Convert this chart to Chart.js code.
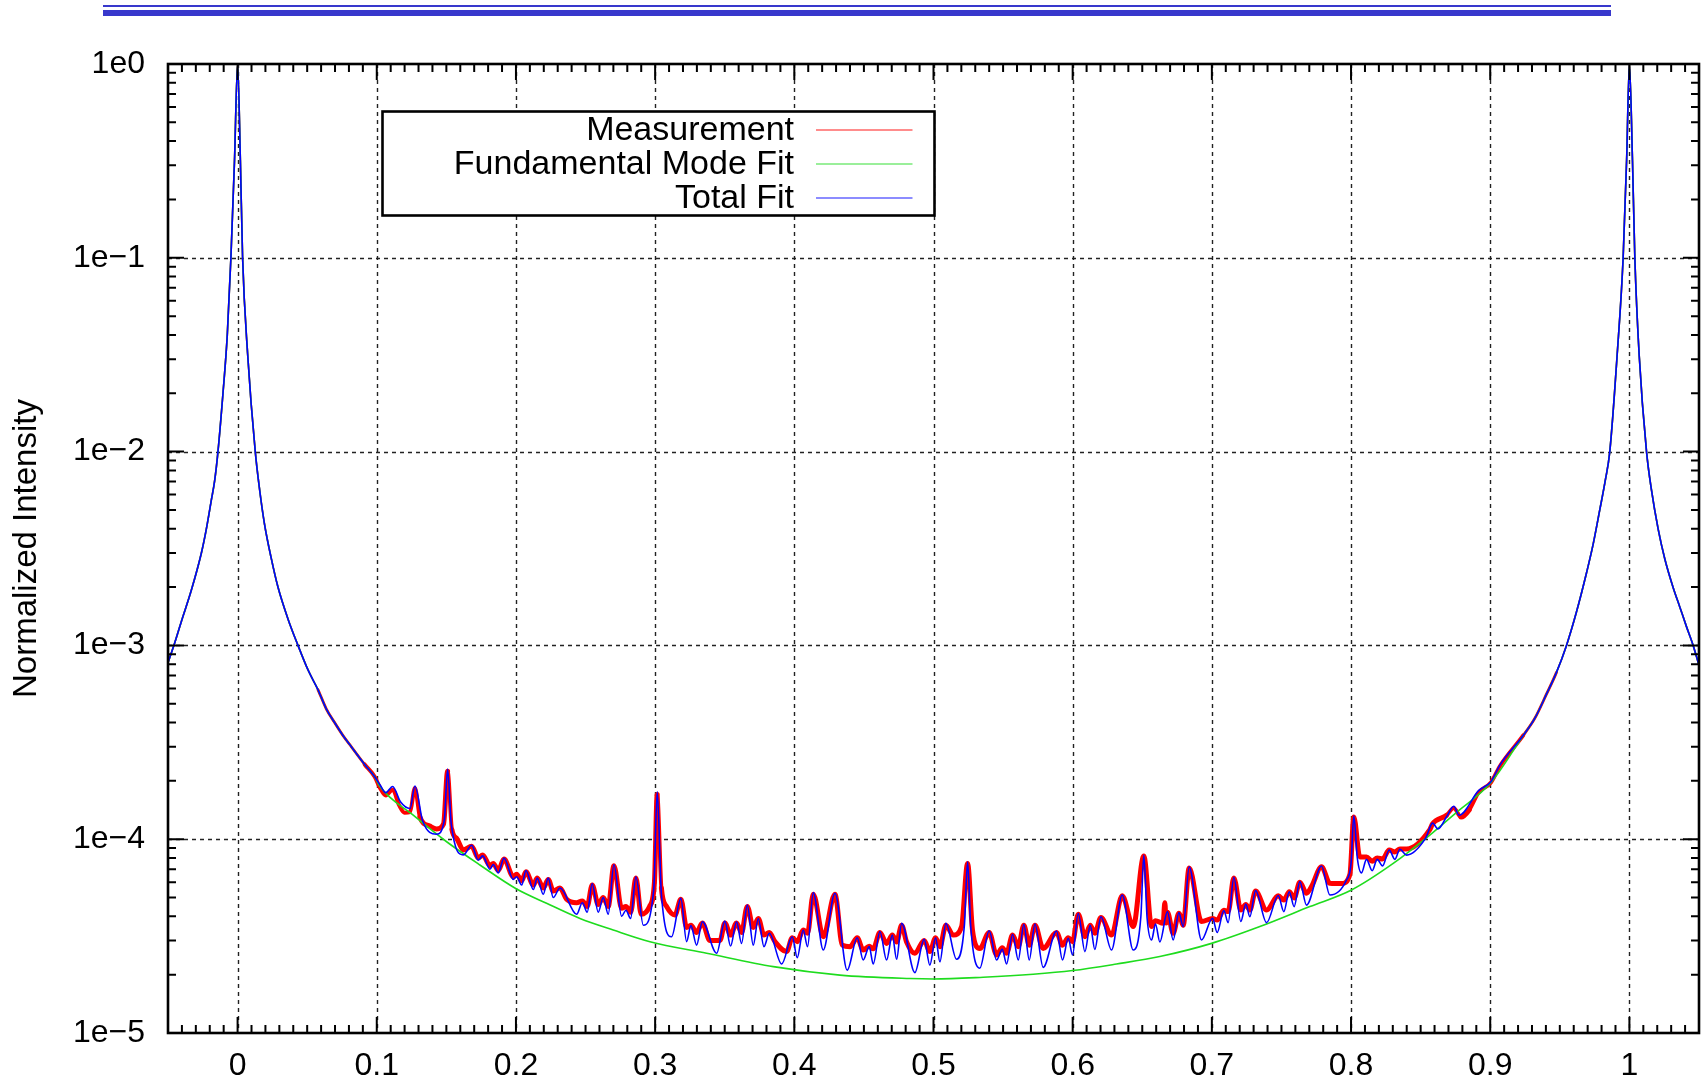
<!DOCTYPE html>
<html>
<head>
<meta charset="utf-8">
<script src="https://cdn.jsdelivr.net/npm/chart.js"></script>
<style>
  html, body { margin: 0; padding: 0; background: #fff; }
  #wrap { position: relative; width: 1704px; height: 1091px; }
  #myChart { position: absolute; left: 0; top: 0; }
  .rule { position: absolute; left: 103px; width: 1508px; background: #3838cc; z-index: 2; }
</style>
</head>
<body>
<div id="wrap">
  <div class="rule" style="top:5px;height:2px"></div>
  <div class="rule" style="top:10px;height:6px"></div>
  <canvas id="myChart" width="1704" height="1091"></canvas>
</div>

<script>
// wings of the two main resonances (all three curves sit on top of each other here)
const wingLeftX = [-0.05, -0.0452, -0.0404, -0.0332, -0.0261, -0.0225, -0.0189, -0.0165, -0.0141, -0.0105,
  -0.0074, -0.0048, -0.0022, 0, 0.0020, 0.0036, 0.0072, 0.0127, 0.0159, 0.0194,
  0.0242, 0.0290, 0.0362, 0.0434, 0.0506, 0.0578, 0.0637, 0.0697, 0.0757, 0.0817,
  0.0913, 0.0985];
const wingLeftY = [8.15e-4, 1.03e-3, 1.33e-3, 1.93e-3, 2.98e-3, 3.97e-3, 5.6e-3, 7.06e-3, 1.0e-2, 2.0e-2,
  4.0e-2, 1.0e-1, 3.2e-1, 1.0, 3.2e-1, 1.0e-1, 3.2e-2, 1.0e-2, 6.3e-3, 4.2e-3,
  2.81e-3, 2.0e-3, 1.37e-3, 1.0e-3, 7.47e-4, 5.9e-4, 4.71e-4, 4.0e-4, 3.43e-4, 3.0e-4,
  2.43e-4, 2.1e-4];

const wingRightX = [0.9237, 0.9320, 0.9404, 0.9476, 0.9548, 0.9620, 0.9692, 0.9740, 0.9787, 0.9826,
  0.9859, 0.9912, 0.9955, 0.9980, 1.0, 1.0022, 1.0039, 1.0070, 1.0123, 1.0159,
  1.0207, 1.0254, 1.0314, 1.0362, 1.0410, 1.0458, 1.05];
const wingRightY = [3.43e-4, 4.2e-4, 5.6e-4, 7.26e-4, 1.0e-3, 1.49e-3, 2.37e-3, 3.34e-3, 5.0e-3, 7.06e-3,
  1.0e-2, 3.16e-2, 1.0e-1, 3.2e-1, 1.0, 3.2e-1, 1.0e-1, 3.16e-2, 1.0e-2, 6.3e-3,
  3.97e-3, 2.8e-3, 1.99e-3, 1.58e-3, 1.25e-3, 1.0e-3, 7.9e-4];

// total fit between the main peaks
const fitX = [0.1023, 0.1065, 0.1114, 0.1170, 0.1239, 0.1274, 0.1330, 0.1430, 0.1485, 0.1509,
  0.1535, 0.1622, 0.1682, 0.1729, 0.1761, 0.1813, 0.1837, 0.1873, 0.1914, 0.1981,
  0.2005, 0.2041, 0.2072, 0.2125, 0.2153, 0.2196, 0.2232, 0.2268, 0.2316, 0.2436,
  0.2477, 0.2512, 0.2548, 0.2591, 0.2627, 0.2663, 0.2704, 0.2759, 0.2790, 0.2824,
  0.2862, 0.2915, 0.2990, 0.3015, 0.3045, 0.3118, 0.3185, 0.3226, 0.3257, 0.3298,
  0.3339, 0.3442, 0.3501, 0.3542, 0.3585, 0.3621, 0.3662, 0.3705, 0.3741, 0.3782,
  0.3820, 0.3909, 0.3985, 0.4021, 0.4064, 0.4095, 0.4136, 0.4208, 0.4292, 0.4380,
  0.4452, 0.4495, 0.4538, 0.4567, 0.4615, 0.4663, 0.4704, 0.4735, 0.4771, 0.4866,
  0.4933, 0.4974, 0.5015, 0.5046, 0.5089, 0.5166, 0.5222, 0.5245, 0.5268, 0.5333,
  0.5400, 0.5453, 0.5494, 0.5525, 0.5568, 0.5609, 0.5649, 0.5688, 0.5729, 0.5788,
  0.5884, 0.5927, 0.5968, 0.5999, 0.6040, 0.6088, 0.6126, 0.6159, 0.6203, 0.6279,
  0.6356, 0.6435, 0.6490, 0.6511, 0.6535, 0.6567, 0.6595, 0.6626, 0.6681, 0.6722,
  0.6763, 0.6794, 0.6837, 0.6926, 0.7005, 0.7038, 0.7086, 0.7117, 0.7158, 0.7208,
  0.7244, 0.7273, 0.7314, 0.7393, 0.7477, 0.7517, 0.7556, 0.7591, 0.7632, 0.7680,
  0.7788, 0.7848, 0.7967, 0.8000, 0.8020, 0.8045, 0.8075, 0.8111, 0.8152, 0.8188,
  0.8226, 0.8274, 0.8315, 0.8351, 0.8399, 0.8535, 0.8586, 0.8624, 0.8687, 0.8738,
  0.8776, 0.8916, 0.9005, 0.9069];
const fitY = [1.91e-4, 1.74e-4, 1.87e-4, 1.56e-4, 1.44e-4, 1.88e-4, 1.24e-4, 1.06e-4, 1.25e-4, 2.30e-4,
  1.20e-4, 8.3e-5, 9.3e-5, 7.8e-5, 8.2e-5, 7.0e-5, 7.4e-5, 6.7e-5, 8.0e-5, 6.2e-5,
  6.4e-5, 5.8e-5, 6.9e-5, 5.5e-5, 6.3e-5, 5.2e-5, 6.3e-5, 5.0e-5, 5.6e-5, 4.1e-5,
  4.7e-5, 4.2e-5, 5.9e-5, 4.2e-5, 5.0e-5, 4.1e-5, 7.4e-5, 4.0e-5, 4.3e-5, 3.9e-5,
  6.4e-5, 3.6e-5, 5.5e-5, 1.76e-4, 5.2e-5, 3.14e-5, 4.95e-5, 2.96e-5, 3.58e-5, 2.84e-5,
  3.75e-5, 2.58e-5, 3.78e-5, 2.81e-5, 3.75e-5, 2.90e-5, 4.57e-5, 2.84e-5, 3.90e-5, 2.79e-5,
  3.27e-5, 2.27e-5, 3.14e-5, 2.45e-5, 3.40e-5, 2.79e-5, 5.30e-5, 2.68e-5, 5.26e-5, 2.11e-5,
  3.10e-5, 2.38e-5, 2.79e-5, 2.27e-5, 3.34e-5, 2.38e-5, 3.20e-5, 2.40e-5, 3.68e-5, 2.05e-5,
  3.04e-5, 2.24e-5, 3.10e-5, 2.33e-5, 3.68e-5, 2.40e-5, 3.6e-5, 7.65e-5, 3.5e-5, 2.16e-5,
  3.37e-5, 2.38e-5, 2.70e-5, 2.27e-5, 3.23e-5, 2.38e-5, 3.64e-5, 2.38e-5, 3.65e-5, 2.18e-5,
  3.36e-5, 2.38e-5, 3.08e-5, 2.53e-5, 4.14e-5, 2.63e-5, 3.59e-5, 2.70e-5, 3.98e-5, 2.68e-5,
  5.15e-5, 2.68e-5, 4.0e-5, 8.28e-5, 3.9e-5, 3.02e-5, 3.65e-5, 2.95e-5, 4.23e-5, 3.02e-5,
  4.18e-5, 3.54e-5, 7.20e-5, 3.02e-5, 3.91e-5, 3.30e-5, 4.28e-5, 3.71e-5, 6.35e-5, 3.76e-5,
  4.63e-5, 3.98e-5, 5.43e-5, 3.71e-5, 5.12e-5, 4.23e-5, 5.36e-5, 4.49e-5, 6.04e-5, 4.57e-5,
  7.27e-5, 5.15e-5, 6.16e-5, 7.5e-5, 1.32e-4, 8.0e-5, 6.70e-5, 7.87e-5, 6.88e-5, 7.87e-5,
  7.28e-5, 8.80e-5, 7.87e-5, 8.87e-5, 8.28e-5, 1.01e-4, 1.21e-4, 1.13e-4, 1.31e-4, 1.48e-4,
  1.33e-4, 1.78e-4, 1.98e-4, 2.41e-4];

// measured spectrum between the main peaks
const measX = [0.1023, 0.1065, 0.1114, 0.1160, 0.1200, 0.1239, 0.1274, 0.1310, 0.1380,
  0.1430, 0.1480, 0.1509, 0.1540, 0.1574, 0.1622, 0.1682, 0.1729, 0.1761, 0.1813,
  0.1837, 0.1873, 0.1914, 0.1981, 0.2005, 0.2041, 0.2072, 0.2125, 0.2153, 0.2196,
  0.2232, 0.2268, 0.2316, 0.2364, 0.2436, 0.2477, 0.2512, 0.2548, 0.2591, 0.2627,
  0.2663, 0.2704, 0.2759, 0.2790, 0.2824, 0.2862, 0.2900, 0.2960, 0.2995, 0.3015,
  0.3045, 0.3082, 0.3142, 0.3185, 0.3226, 0.3257, 0.3298, 0.3339, 0.3394, 0.3466,
  0.3501, 0.3542, 0.3585, 0.3621, 0.3662, 0.3705, 0.3741, 0.3782, 0.3820, 0.3861,
  0.3945, 0.3985, 0.4021, 0.4064, 0.4095, 0.4136, 0.4208, 0.4292, 0.4345, 0.4400,
  0.4452, 0.4495, 0.4538, 0.4567, 0.4615, 0.4663, 0.4704, 0.4735, 0.4771, 0.4806,
  0.4866, 0.4933, 0.4974, 0.5015, 0.5046, 0.5089, 0.5142, 0.5202, 0.5245, 0.5280,
  0.5333, 0.5400, 0.5453, 0.5494, 0.5525, 0.5568, 0.5609, 0.5649, 0.5688, 0.5729,
  0.5788, 0.5884, 0.5927, 0.5968, 0.5999, 0.6040, 0.6088, 0.6126, 0.6159, 0.6203,
  0.6279, 0.6356, 0.6435, 0.6511, 0.6567, 0.6595, 0.6650, 0.6662, 0.6672, 0.6681,
  0.6722, 0.6763, 0.6794, 0.6837, 0.6926, 0.7005, 0.7038, 0.7086, 0.7117, 0.7158,
  0.7208, 0.7244, 0.7273, 0.7314, 0.7393, 0.7477, 0.7517, 0.7556, 0.7591, 0.7632,
  0.7680, 0.7716, 0.7788, 0.7848, 0.7932, 0.7992, 0.8020, 0.8063, 0.8111, 0.8152,
  0.8188, 0.8226, 0.8274, 0.8315, 0.8351, 0.8399, 0.8566, 0.8586, 0.8687, 0.8738,
  0.8790, 0.8850, 0.8916, 0.9005, 0.9069];
const measY = [1.84e-4, 1.68e-4, 1.80e-4, 1.50e-4, 1.37e-4, 1.38e-4, 1.84e-4, 1.30e-4, 1.17e-4,
  1.13e-4, 1.20e-4, 2.24e-4, 1.12e-4, 1.01e-4, 8.8e-5, 9.2e-5, 8.0e-5, 8.3e-5, 7.3e-5,
  7.5e-5, 6.9e-5, 7.9e-5, 6.4e-5, 6.6e-5, 6.1e-5, 6.8e-5, 5.8e-5, 6.3e-5, 5.6e-5,
  6.2e-5, 5.4e-5, 5.6e-5, 4.9e-5, 4.7e-5, 4.8e-5, 4.5e-5, 5.8e-5, 4.6e-5, 5.0e-5,
  4.5e-5, 7.3e-5, 4.4e-5, 4.5e-5, 4.2e-5, 6.3e-5, 4.1e-5, 4.5e-5, 6.0e-5, 1.70e-4,
  5.6e-5, 4.5e-5, 4.06e-5, 4.9e-5, 3.5e-5, 3.6e-5, 3.3e-5, 3.7e-5, 3.0e-5, 3.0e-5,
  3.7e-5, 3.2e-5, 3.7e-5, 3.3e-5, 4.5e-5, 3.5e-5, 3.9e-5, 3.2e-5, 3.3e-5, 2.96e-5,
  2.63e-5, 3.1e-5, 2.96e-5, 3.4e-5, 3.27e-5, 5.2e-5, 3.14e-5, 5.2e-5, 2.84e-5, 2.79e-5,
  3.1e-5, 2.68e-5, 2.8e-5, 2.72e-5, 3.3e-5, 2.9e-5, 3.2e-5, 2.95e-5, 3.6e-5, 2.96e-5,
  2.58e-5, 3.0e-5, 2.63e-5, 3.1e-5, 2.79e-5, 3.6e-5, 3.2e-5, 3.54e-5, 7.5e-5, 3.4e-5,
  2.73e-5, 3.3e-5, 2.53e-5, 2.75e-5, 2.58e-5, 3.2e-5, 2.79e-5, 3.6e-5, 2.84e-5, 3.6e-5,
  2.73e-5, 3.3e-5, 2.84e-5, 3.1e-5, 2.96e-5, 4.1e-5, 3.14e-5, 3.6e-5, 3.27e-5, 3.95e-5,
  3.2e-5, 5.1e-5, 3.54e-5, 8.2e-5, 3.54e-5, 3.8e-5, 3.68e-5, 4.7e-5, 3.7e-5, 4.2e-5,
  3.27e-5, 4.15e-5, 3.6e-5, 7.1e-5, 3.76e-5, 3.9e-5, 3.83e-5, 4.3e-5, 4.23e-5, 6.3e-5,
  4.31e-5, 4.6e-5, 4.31e-5, 5.4e-5, 4.31e-5, 5.1e-5, 4.85e-5, 5.35e-5, 4.98e-5, 6.0e-5,
  5.26e-5, 5.7e-5, 7.2e-5, 5.92e-5, 5.9e-5, 6.6e-5, 1.30e-4, 8.1e-5, 8.1e-5, 7.7e-5,
  8.0e-5, 7.9e-5, 8.8e-5, 8.6e-5, 8.9e-5, 8.9e-5, 1.12e-4, 1.2e-4, 1.33e-4, 1.45e-4,
  1.30e-4, 1.42e-4, 1.74e-4, 1.96e-4, 2.38e-4];

// fundamental mode between the main peaks
const modeX = [0.1023, 0.1262, 0.1502, 0.1741, 0.1998, 0.2220, 0.2460, 0.2699, 0.2963, 0.3370,
  0.3849, 0.4328, 0.4831, 0.5000, 0.5357, 0.5716, 0.5999, 0.6315, 0.6626, 0.6998,
  0.7345, 0.7704, 0.8003, 0.8303, 0.8566, 0.8750, 0.9005];
const modeY = [1.87e-4, 1.33e-4, 9.7e-5, 7.36e-5, 5.57e-5, 4.67e-5, 3.90e-5, 3.40e-5, 2.96e-5, 2.58e-5,
  2.20e-5, 1.99e-5, 1.91e-5, 1.90e-5, 1.94e-5, 2.01e-5, 2.10e-5, 2.27e-5, 2.48e-5, 2.90e-5,
  3.54e-5, 4.49e-5, 5.47e-5, 7.5e-5, 1.05e-4, 1.36e-4, 1.96e-4];

const xTickValues = [0, 0.1, 0.2, 0.3, 0.4, 0.5, 0.6, 0.7, 0.8, 0.9, 1];
const xTickLabels = ['0', '0.1', '0.2', '0.3', '0.4', '0.5', '0.6', '0.7', '0.8', '0.9', '1'];
const yTickValues = [1e-5, 1e-4, 1e-3, 1e-2, 1e-1, 1];
const yTickLabels = ['1e\u22125', '1e\u22124', '1e\u22123', '1e\u22122', '1e\u22121', '1e0'];

function toPoints(xs, ys) {
  return xs.map(function(x, i) { return {x: x, y: ys[i]}; });
}
function withWings(xs, ys) {
  return toPoints(wingLeftX, wingLeftY).concat(toPoints(xs, ys), toPoints(wingRightX, wingRightY));
}

Chart.defaults.font.family = "'Liberation Sans', Arial, sans-serif";
Chart.defaults.color = '#000';

// dashed grid under the curves, frame with inward ticks on top
const framePlugin = {
  id: 'frame',
  beforeDatasetsDraw(chart) {
    const ctx = chart.ctx, a = chart.chartArea;
    const xs = chart.scales.x, ys = chart.scales.y;
    ctx.save();
    ctx.strokeStyle = '#222';
    ctx.lineWidth = 1.4;
    ctx.setLineDash([4, 4]);
    ctx.beginPath();
    xTickValues.forEach(function(v) {
      const px = Math.round(xs.getPixelForValue(v)) + 0.5;
      ctx.moveTo(px, a.top); ctx.lineTo(px, a.bottom);
    });
    yTickValues.forEach(function(v) {
      if (v <= ys.min || v >= ys.max) return;
      const py = Math.round(ys.getPixelForValue(v)) + 0.5;
      ctx.moveTo(a.left, py); ctx.lineTo(a.right, py);
    });
    ctx.stroke();
    ctx.restore();
  },
  afterDatasetsDraw(chart) {
    const ctx = chart.ctx, a = chart.chartArea;
    const xs = chart.scales.x, ys = chart.scales.y;
    ctx.save();
    ctx.setLineDash([]);
    ctx.strokeStyle = '#000';
    ctx.lineWidth = 2;
    ctx.beginPath();
    for (let i = -5; i <= 105; i++) {
      const px = xs.getPixelForValue(i / 100);
      const len = (i % 10 === 0 && i >= 0 && i <= 100) ? 16 : 8;
      ctx.moveTo(px, a.bottom); ctx.lineTo(px, a.bottom - len);
      ctx.moveTo(px, a.top); ctx.lineTo(px, a.top + len);
    }
    for (let d = -5; d <= 0; d++) {
      for (let m = 1; m <= 9; m++) {
        const v = m * Math.pow(10, d);
        if (v > 1) break;
        const py = ys.getPixelForValue(v);
        const len = m === 1 ? 16 : 8;
        ctx.moveTo(a.left, py); ctx.lineTo(a.left + len, py);
        ctx.moveTo(a.right, py); ctx.lineTo(a.right - len, py);
      }
    }
    ctx.stroke();
    ctx.lineWidth = 2.6;
    ctx.strokeRect(a.left, a.top, a.right - a.left, a.bottom - a.top);
    ctx.restore();
  }
};

// boxed key, text right-aligned with the line sample after it
const keyPlugin = {
  id: 'keyBox',
  afterDraw(chart) {
    const ctx = chart.ctx, a = chart.chartArea;
    const bx = a.left + 214.5, by = a.top + 47.5, bw = 552, bh = 104;
    ctx.save();
    ctx.fillStyle = '#fff';
    ctx.fillRect(bx, by, bw, bh);
    ctx.lineWidth = 2.6;
    ctx.strokeStyle = '#000';
    ctx.strokeRect(bx, by, bw, bh);
    ctx.font = "34px 'Liberation Sans', Arial, sans-serif";
    ctx.textAlign = 'right';
    ctx.textBaseline = 'middle';
    chart.data.datasets.forEach(function(ds, i) {
      const ry = by + 18.5 + i * 34;
      ctx.fillStyle = '#000';
      ctx.fillText(ds.label, bx + 411.5, ry + 1);
      ctx.globalAlpha = 0.45;
      ctx.strokeStyle = ds.borderColor;
      ctx.lineWidth = 2;
      ctx.beginPath();
      ctx.moveTo(bx + 433.5, ry); ctx.lineTo(bx + 530, ry);
      ctx.stroke();
      ctx.globalAlpha = 1;
    });
    ctx.restore();
  }
};

// the measured band widens where the signal is flat and noisy
function measWidth(c) {
  const v = c.p0.parsed.y;
  if (v > 6e-4) return 1.6;
  if (v > 2.6e-4) return 2.8;
  if (v > 1.3e-4) return 4;
  return 5;
}

const config = {
  type: 'line',
  data: {
    datasets: [
      {
        label: 'Measurement',
        data: withWings(measX, measY),
        borderColor: '#ff0000',
        borderWidth: 5,
        segment: { borderWidth: measWidth },
        order: 2
      },
      {
        label: 'Fundamental Mode Fit',
        data: withWings(modeX, modeY),
        borderColor: '#1edc1e',
        borderWidth: 1.6,
        order: 1
      },
      {
        label: 'Total Fit',
        data: withWings(fitX, fitY),
        borderColor: '#0000ff',
        borderWidth: 1.6,
        order: 0
      }
    ]
  },
  options: {
    responsive: false,
    animation: false,
    elements: {
      point: { radius: 0 },
      line: { cubicInterpolationMode: 'monotone', fill: false, borderCapStyle: 'round', borderJoinStyle: 'round' }
    },
    layout: { padding: { top: 64, right: 5, left: 0, bottom: 0 } },
    plugins: {
      legend: { display: false },
      tooltip: { enabled: false }
    },
    scales: {
      x: {
        type: 'linear',
        min: -0.05,
        max: 1.05,
        grid: { display: false, drawTicks: false },
        border: { display: false },
        afterBuildTicks: function(s) { s.ticks = xTickValues.map(function(v) { return {value: v}; }); },
        afterFit: function(s) { s.height = 58; },
        ticks: {
          autoSkip: false,
          maxRotation: 0,
          padding: 14,
          font: { size: 32 },
          callback: function(v, i) { return xTickLabels[i]; }
        }
      },
      y: {
        type: 'logarithmic',
        min: 1e-5,
        max: 1,
        grid: { display: false, drawTicks: false },
        border: { display: false },
        afterBuildTicks: function(s) { s.ticks = yTickValues.map(function(v) { return {value: v}; }); },
        afterFit: function(s) { s.width = 168; },
        ticks: {
          autoSkip: false,
          padding: 23,
          font: { size: 32 },
          callback: function(v, i) { return yTickLabels[i]; }
        },
        title: {
          display: true,
          text: 'Normalized Intensity',
          font: { size: 33 },
          padding: { top: 7, bottom: 0 }
        }
      }
    }
  },
  plugins: [framePlugin, keyPlugin]
};

const myChart = new Chart(document.getElementById('myChart'), config);
</script>
</body>
</html>
